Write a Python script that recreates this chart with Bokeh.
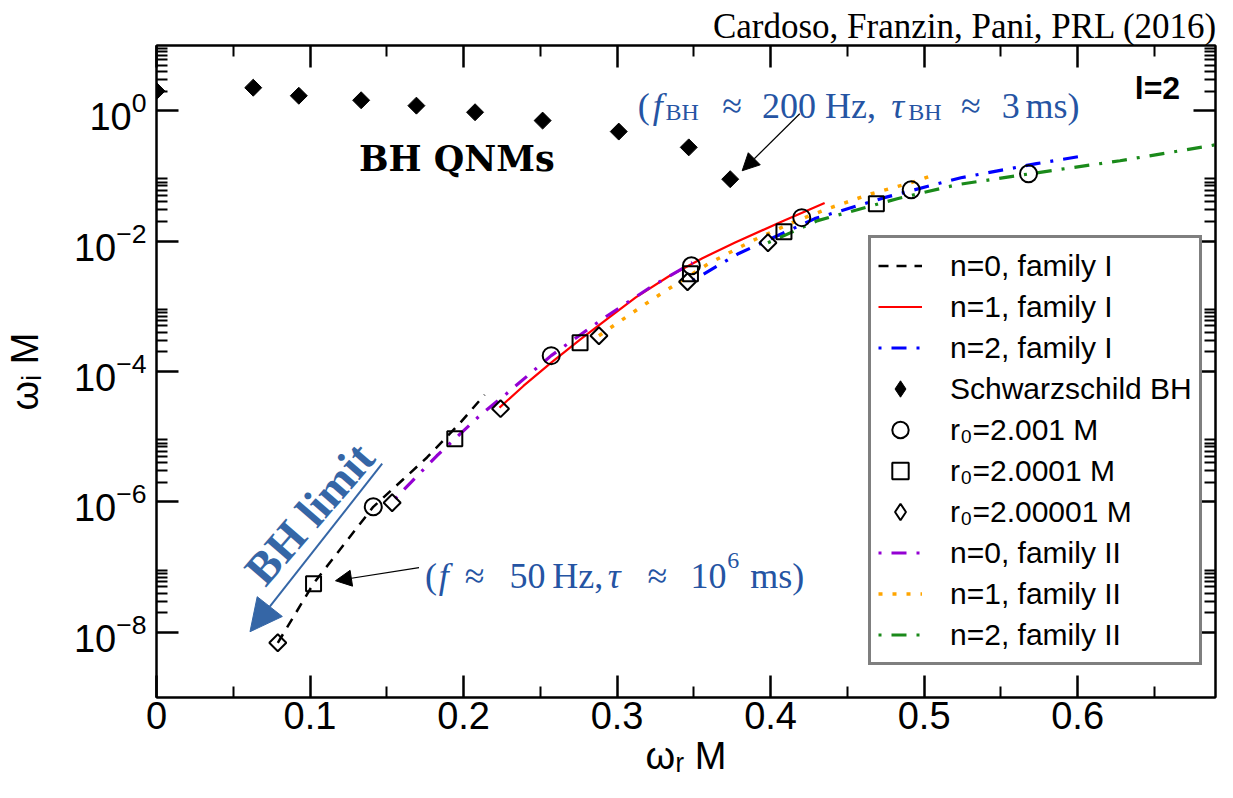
from bokeh.plotting import figure
from bokeh.models import (Range1d, FixedTicker, LinearAxis, Legend, LegendItem,
                          Label, Arrow, NormalHead, NumeralTickFormatter)
from bokeh.embed import file_html
from bokeh.resources import INLINE
import math

# ---------------- data ----------------
# n=0, family I (black dashed)
n0I_wR = [0.0790, 0.1023, 0.1412, 0.1762, 0.1975, 0.2137]
n0I_wI = [6.9e-9, 5.6e-8, 8.4e-7, 4.8e-6, 1.6e-5, 4.4e-5]
# n=1, family I (red solid)
n1I_wR = [0.2234, 0.2390, 0.2571, 0.2759, 0.2947, 0.3122, 0.3335, 0.3556, 0.3769, 0.4074, 0.4352]
n1I_wI = [2.79e-5, 6.0e-5, 1.37e-4, 3.09e-4, 6.68e-4, 1.37e-3, 2.86e-3, 5.47e-3, 9.48e-3, 2.0e-2, 3.85e-2]
# n=2, family I (blue dash-dot)
n2I_wR = [0.3491, 0.3789, 0.4288, 0.4741, 0.5240, 0.5732, 0.6004]
n2I_wI = [2.47e-3, 6.41e-3, 2.21e-2, 4.64e-2, 9.38e-2, 1.54e-1, 1.97e-1]
# n=0, family II (violet dash-dot)
n0II_wR = [0.1554, 0.1826, 0.2105, 0.2280, 0.2571, 0.2908, 0.3232, 0.3491]
n0II_wI = [1.12e-6, 5.1e-6, 2.10e-5, 4.57e-5, 1.75e-4, 6.46e-4, 2.07e-3, 4.67e-3]
# n=1, family II (orange dotted)
n1II_wR = [0.2882, 0.3167, 0.3316, 0.3595, 0.3880, 0.4139, 0.4372, 0.4657, 0.4916, 0.5084]
n1II_wI = [3.54e-4, 1.02e-3, 1.73e-3, 4.50e-3, 1.01e-2, 1.91e-2, 3.14e-2, 5.33e-2, 7.87e-2, 1.08e-1]
# n=2, family II (green dash-dot)
n2II_wR = [0.3983, 0.4307, 0.4825, 0.5214, 0.5693, 0.6276, 0.6865, 0.7000]
n2II_wI = [9.44e-3, 2.06e-2, 4.47e-2, 7.33e-2, 1.08e-1, 1.71e-1, 2.90e-1, 3.35e-1]
# Schwarzschild BH QNMs, l=2
bh_wR = [0.3737, 0.3467, 0.3011, 0.2515, 0.2075, 0.1693, 0.1333, 0.0927, 0.0, 0.0630]
bh_wI = [0.0890, 0.2739, 0.4783, 0.7051, 0.9468, 1.1956, 1.4461, 1.6951, 2.0, 2.2537]
# r0 = 2.001 M (circles)
c_wR = [0.1412, 0.2571, 0.3484, 0.4203, 0.4916, 0.5680]
c_wI = [8.44e-7, 1.75e-4, 4.19e-3, 2.29e-2, 6.14e-2, 1.08e-1]
# r0 = 2.0001 M (squares)
s_wR = [0.1023, 0.1943, 0.2759, 0.3478, 0.4087, 0.4689]
s_wI = [5.56e-8, 9.31e-6, 2.77e-4, 3.16e-3, 1.39e-2, 3.75e-2]
# r0 = 2.00001 M (diamonds)
d_wR = [0.0790, 0.1535, 0.2241, 0.2882, 0.3459, 0.3983]
d_wI = [6.92e-9, 9.72e-7, 2.69e-5, 3.54e-4, 2.38e-3, 9.45e-3]

x_ticks = [0.0, 0.1, 0.2, 0.3, 0.4, 0.5, 0.6]
x_minor = [0.05, 0.15, 0.25, 0.35, 0.45, 0.55, 0.65]
y_ticks = [1e-8, 1e-6, 1e-4, 1e-2, 1e0]
y_minor = [m * t for t in y_ticks for m in range(2, 10)]

SANS = "Liberation Sans"
SERIF = "Liberation Serif"
BLUE_TXT = "#2554a3"
BLUE_ARR = "#3566a6"

p = figure(width=1217, height=796, x_range=Range1d(0, 0.6898), y_range=Range1d(1e-9, 1e1),
           y_axis_type="log", output_backend="svg", toolbar_location=None,
           min_border_left=150, min_border_right=2, min_border_top=45, min_border_bottom=99)
p.grid.visible = False
p.outline_line_color = "black"
p.outline_line_width = 2
p.background_fill_color = "white"
p.border_fill_color = "white"

p.title.text = "Cardoso, Franzin, Pani, PRL (2016)"
p.title.align = "right"
p.title.text_font = SERIF
p.title.text_font_size = "35px"
p.title.text_font_style = "normal"
p.title.text_color = "black"
p.title.standoff = 0
p.title.offset = -2


def style_axis(ax, show_labels=True):
    ax.major_tick_in = 22
    ax.major_tick_out = 0
    ax.minor_tick_in = 11
    ax.minor_tick_out = 0
    ax.axis_line_width = 2
    ax.axis_line_color = "black"
    ax.major_tick_line_width = 2.5
    ax.minor_tick_line_width = 2
    ax.major_tick_line_color = "black"
    ax.minor_tick_line_color = "black"
    if show_labels:
        ax.major_label_text_font = SANS
        ax.major_label_text_font_size = "38px"
        ax.major_label_text_color = "black"
    else:
        ax.major_label_text_font_size = "1px"
        ax.major_label_text_color = None
        ax.major_label_standoff = 0


xax = p.xaxis[0]
xax.ticker = FixedTicker(ticks=x_ticks, minor_ticks=x_minor)
xax.formatter = NumeralTickFormatter(format="0.[0]")
style_axis(xax)
xax.major_label_standoff = 4
xax.axis_label = "ωᵣ M"
xax.axis_label_text_font = SANS
xax.axis_label_text_font_size = "38px"
xax.axis_label_text_font_style = "normal"
xax.axis_label_text_color = "black"
xax.axis_label_standoff = 3

yax = p.yaxis[0]
yax.ticker = FixedTicker(ticks=y_ticks, minor_ticks=y_minor)
style_axis(yax)
yax.major_label_standoff = 10
yax.axis_label = "ωᵢ M"
yax.axis_label_text_font = SANS
yax.axis_label_text_font_size = "38px"
yax.axis_label_text_font_style = "normal"
yax.axis_label_text_color = "black"
yax.axis_label_standoff = 25

top = LinearAxis(ticker=FixedTicker(ticks=x_ticks, minor_ticks=x_minor))
style_axis(top, show_labels=False)
p.add_layout(top, "above")
right = LinearAxis(ticker=FixedTicker(ticks=y_ticks, minor_ticks=y_minor))
style_axis(right, show_labels=False)
p.add_layout(right, "right")

# ---------------- curves ----------------
r_n0I = p.line(n0I_wR, n0I_wI, line_color="black", line_width=2.5, line_dash="10 8")
r_n1I = p.line(n1I_wR, n1I_wI, line_color="#ff0000", line_width=2.2)
r_n2I = p.line(n2I_wR, n2I_wI, line_color="#0000ff", line_width=3.2, line_dash="3 10 15 10")
r_n0II = p.line(n0II_wR, n0II_wI, line_color="#9400d3", line_width=3.2, line_dash="3 10 15 10")
r_n1II = p.line(n1II_wR, n1II_wI, line_color="#ffa500", line_width=3.5, line_dash="4 10")
r_n2II = p.line(n2II_wR, n2II_wI, line_color="#1a8a1a", line_width=3.2, line_dash="3 10 15 10")

r_bh = p.scatter(bh_wR, bh_wI, marker="square", size=12, angle=math.pi / 4,
                 fill_color="black", line_color="black", line_width=1)
r_c = p.scatter(c_wR, c_wI, marker="circle", size=17, fill_alpha=0,
                line_color="black", line_width=2)
r_s = p.scatter(s_wR, s_wI, marker="square", size=15, fill_alpha=0,
                line_color="black", line_width=2)
r_d = p.scatter(d_wR, d_wI, marker="square", size=12, angle=math.pi / 4, fill_alpha=0,
                line_color="black", line_width=2)
# legend-only twins (legend glyphs are drawn unrotated, so use the diamond marker there)
r_bh_leg = p.scatter(bh_wR, bh_wI, marker="diamond", size=12, fill_color="black",
                     line_color="black", line_width=1, visible=False)
r_d_leg = p.scatter(d_wR, d_wI, marker="diamond", size=12, fill_alpha=0,
                    line_color="black", line_width=2, visible=False)

legend = Legend(items=[
    LegendItem(label="n=0, family I", renderers=[r_n0I]),
    LegendItem(label="n=1, family I", renderers=[r_n1I]),
    LegendItem(label="n=2, family I", renderers=[r_n2I]),
    LegendItem(label="Schwarzschild BH", renderers=[r_bh_leg]),
    LegendItem(label="r₀=2.001 M", renderers=[r_c]),
    LegendItem(label="r₀=2.0001 M", renderers=[r_s]),
    LegendItem(label="r₀=2.00001 M", renderers=[r_d_leg]),
    LegendItem(label="n=0, family II", renderers=[r_n0II]),
    LegendItem(label="n=1, family II", renderers=[r_n1II]),
    LegendItem(label="n=2, family II", renderers=[r_n2II]),
], location=(712, 32), margin=0, padding=7, spacing=0, label_standoff=28,
    glyph_width=44, glyph_height=41, label_height=41,
    label_text_font=SANS, label_text_font_size="30px", label_text_color="black",
    border_line_color="black", border_line_width=3, background_fill_color="white",
    background_fill_alpha=1, inactive_fill_alpha=0)
p.add_layout(legend)

# ---------------- annotations ----------------
def lab(x, y, text, font=SERIF, size="36px", color="black", style="normal",
        align="left", baseline="alphabetic", angle=0.0):
    p.add_layout(Label(x=x, y=y, text=text, text_font=font, text_font_size=size,
                       text_color=color, text_font_style=style, text_align=align,
                       text_baseline=baseline, angle=angle))

lab(0.652, 2.25, "l=2", font=SANS, size="32px", style="bold", align="center", baseline="middle")
lab(0.1956, 0.184, "BH QNMs", font="DejaVu Serif", size="35px", style="bold",
    align="center", baseline="middle")

# top blue note: (f_BH ≈ 200 Hz, τ_BH ≈ 3 ms)
yb, ysub = 1.193, 0.965
lab(0.3135, yb, "(", color=BLUE_TXT)
lab(0.3232, yb, "f", color=BLUE_TXT, style="italic")
lab(0.3316, ysub, "BH", color=BLUE_TXT, size="24px")
lab(0.3685, yb, "≈", color=BLUE_TXT)
lab(0.3944, yb, "200 Hz,", color=BLUE_TXT)
lab(0.4786, yb, "τ", color=BLUE_TXT, style="italic")
lab(0.4897, ysub, "BH", color=BLUE_TXT, size="24px")
lab(0.5240, yb, "≈", color=BLUE_TXT)
lab(0.5505, yb, "3", color=BLUE_TXT)
lab(0.5660, yb, "ms)", color=BLUE_TXT)

# bottom blue note: (f ≈ 50 Hz, τ ≈ 10^6 ms)
yb2 = 7.38e-8
lab(0.1749, yb2, "(", color=BLUE_TXT)
lab(0.1839, yb2, "f", color=BLUE_TXT, style="italic")
lab(0.2008, yb2, "≈", color=BLUE_TXT)
lab(0.2299, yb2, "50", color=BLUE_TXT)
lab(0.2578, yb2, "Hz,", color=BLUE_TXT)
lab(0.2940, yb2, "τ", color=BLUE_TXT, style="italic")
lab(0.3199, yb2, "≈", color=BLUE_TXT)
lab(0.3478, yb2, "10", color=BLUE_TXT)
lab(0.3718, 1.26e-7, "6", color=BLUE_TXT, size="24px")
lab(0.3867, yb2, "ms)", color=BLUE_TXT)

# BH limit
lab(0.0997, 6.59e-7, "BH limit", color=BLUE_ARR, size="46px", style="bold", align="center",
    baseline="middle", angle=0.855)
p.add_layout(Arrow(end=NormalHead(size=32, fill_color=BLUE_ARR, line_color=BLUE_ARR),
                   x_start=0.147, y_start=3.85e-6, x_end=0.0609, y_end=1.02e-8,
                   line_color=BLUE_ARR, line_width=2))

# black arrows
p.add_layout(Arrow(end=NormalHead(size=17, fill_color="black", line_color="black"),
                   x_start=0.419, y_start=0.899, x_end=0.3815, y_end=0.120,
                   line_color="black", line_width=1.2))
p.add_layout(Arrow(end=NormalHead(size=16, fill_color="black", line_color="black"),
                   x_start=0.171, y_start=9.8e-8, x_end=0.1166, y_end=6.18e-8,
                   line_color="black", line_width=1.2))

open("out.html", "w").write(file_html(p, INLINE))
